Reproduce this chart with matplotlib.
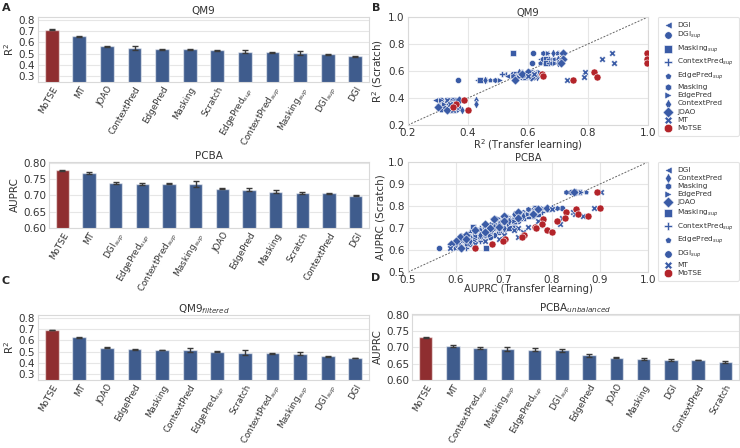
import matplotlib
matplotlib.use('Agg')
import matplotlib.pyplot as plt
import seaborn as sns

sns.set_style('whitegrid', {'grid.color': '.9', 'axes.edgecolor': '.85'})
plt.rcParams['font.family'] = ['DejaVu Sans']

# colores
azul_bar = '#3f5c8d'
rojo_bar = '#8f2e30'
azul_pt = '#3a5ba6'
rojo_pt = '#b3242a'

# ---------------- datos de barras ----------------
qm9_met = ['MoTSE', 'MT', 'JOAO', 'ContextPred', 'EdgePred', 'Masking', 'Scratch',
           r'EdgePred$_{sup}$', r'ContextPred$_{sup}$', r'Masking$_{sup}$', r'DGI$_{sup}$', 'DGI']
qm9_val = [0.712, 0.653, 0.567, 0.549, 0.538, 0.538, 0.530, 0.518, 0.514, 0.509, 0.496, 0.476]
qm9_err = [0.003, 0.004, 0.003, 0.020, 0.003, 0.003, 0.003, 0.012, 0.004, 0.018, 0.004, 0.004]

pcba_met = ['MoTSE', 'MT', r'DGI$_{sup}$', r'EdgePred$_{sup}$', r'ContextPred$_{sup}$', r'Masking$_{sup}$',
            'JOAO', 'EdgePred', 'Masking', 'Scratch', 'ContextPred', 'DGI']
pcba_val = [0.777, 0.769, 0.739, 0.736, 0.736, 0.735, 0.720, 0.717, 0.711, 0.707, 0.706, 0.699]
pcba_err = [0.002, 0.003, 0.003, 0.003, 0.002, 0.008, 0.002, 0.004, 0.004, 0.002, 0.002, 0.002]

qm9f_met = ['MoTSE', 'MT', 'JOAO', 'EdgePred', 'Masking', 'ContextPred', r'EdgePred$_{sup}$', 'Scratch',
            r'ContextPred$_{sup}$', r'Masking$_{sup}$', r'DGI$_{sup}$', 'DGI']
qm9f_val = [0.692, 0.628, 0.535, 0.521, 0.515, 0.512, 0.499, 0.491, 0.488, 0.482, 0.461, 0.444]
qm9f_err = [0.003, 0.004, 0.003, 0.003, 0.003, 0.018, 0.004, 0.020, 0.004, 0.013, 0.005, 0.003]

pcbau_met = ['MoTSE', 'MT', r'ContextPred$_{sup}$', r'Masking$_{sup}$', r'EdgePred$_{sup}$', r'DGI$_{sup}$',
             'EdgePred', 'JOAO', 'Masking', 'DGI', 'ContextPred', 'Scratch']
pcbau_val = [0.731, 0.703, 0.698, 0.695, 0.693, 0.691, 0.675, 0.668, 0.664, 0.661, 0.661, 0.655]
pcbau_err = [0.002, 0.003, 0.003, 0.006, 0.005, 0.005, 0.005, 0.002, 0.002, 0.003, 0.001, 0.004]

# ---------------- datos de dispersión ----------------
qm9_scratch = [0.736, 0.687, 0.657, 0.59, 0.577, 0.565, 0.553, 0.533, 0.385, 0.353, 0.335, 0.311]
qm9_tl = {
    'DGI':           [0.660, 0.640, 0.645, 0.590, 0.520, 0.530, 0.560, 0.430, 0.290, 0.300, 0.310, 0.320],
    'DGI_sup':       [0.616, 0.650, 0.613, 0.600, 0.550, 0.570, 0.580, 0.367, 0.310, 0.330, 0.340, 0.330],
    'Masking_sup':   [0.549, 0.660, 0.660, 0.610, 0.560, 0.600, 0.590, 0.440, 0.350, 0.330, 0.310, 0.350],
    'ContextPred_sup': [0.700, 0.670, 0.670, 0.580, 0.513, 0.560, 0.610, 0.460, 0.330, 0.350, 0.330, 0.340],
    'EdgePred_sup':  [0.698, 0.680, 0.640, 0.620, 0.570, 0.580, 0.600, 0.473, 0.340, 0.360, 0.320, 0.310],
    'Masking':       [0.649, 0.685, 0.680, 0.630, 0.590, 0.550, 0.620, 0.490, 0.360, 0.340, 0.360, 0.360],
    'EdgePred':      [0.668, 0.690, 0.690, 0.640, 0.610, 0.590, 0.570, 0.507, 0.310, 0.320, 0.350, 0.370],
    'ContextPred':   [0.684, 0.700, 0.700, 0.570, 0.620, 0.610, 0.630, 0.457, 0.427, 0.427, 0.370, 0.380],
    'JOAO':          [0.716, 0.715, 0.710, 0.600, 0.580, 0.620, 0.610, 0.557, 0.370, 0.340, 0.300, 0.330],
    'MT':            [0.879, 0.846, 0.887, 0.790, 0.620, 0.600, 0.785, 0.730, 0.330, 0.340, 0.360, 0.350],
    'MoTSE':         [0.995, 0.995, 0.995, 0.820, 0.646, 0.650, 0.829, 0.749, 0.388, 0.360, 0.350, 0.399],
}

pcba_scratch = [0.865, 0.79, 0.785, 0.774, 0.765, 0.755, 0.745, 0.74, 0.73, 0.718,
                0.705, 0.698, 0.69, 0.68, 0.668, 0.66, 0.65, 0.64, 0.627, 0.608]
pcba_tl = {
    'DGI':           [0.84, 0.78, 0.76, 0.75, 0.73, 0.72, 0.674, 0.70, 0.69, 0.70, 0.66, 0.69, 0.67, 0.65, 0.64, 0.64, 0.63, 0.62, 0.62, 0.60],
    'ContextPred':   [0.85, 0.80, 0.77, 0.76, 0.72, 0.74, 0.706, 0.71, 0.71, 0.69, 0.68, 0.70, 0.66, 0.66, 0.65, 0.63, 0.61, 0.63, 0.60, 0.612],
    'Masking':       [0.83, 0.81, 0.75, 0.74, 0.74, 0.73, 0.72, 0.72, 0.70, 0.68, 0.67, 0.68, 0.65, 0.67, 0.66, 0.65, 0.63, 0.61, 0.63, 0.59],
    'EdgePred':      [0.86, 0.782, 0.78, 0.77, 0.75, 0.71, 0.688, 0.73, 0.72, 0.71, 0.70, 0.66, 0.68, 0.64, 0.67, 0.62, 0.64, 0.64, 0.61, 0.60],
    'JOAO':          [0.845, 0.79, 0.77, 0.73, 0.76, 0.70, 0.73, 0.68, 0.70, 0.66, 0.69, 0.67, 0.64, 0.66, 0.62, 0.608, 0.62, 0.60, 0.59, 0.61],
    'Masking_sup':   [0.855, 0.765, 0.79, 0.765, 0.77, 0.75, 0.74, 0.70, 0.72, 0.70, 0.636, 0.71, 0.66, 0.67, 0.64, 0.64, 0.65, 0.62, 0.63, 0.662],
    'ContextPred_sup': [0.86, 0.80, 0.78, 0.78, 0.74, 0.74, 0.70, 0.71, 0.68, 0.70, 0.68, 0.65, 0.69, 0.63, 0.65, 0.66, 0.61, 0.65, 0.60, 0.62],
    'EdgePred_sup':  [0.87, 0.81, 0.76, 0.75, 0.75, 0.72, 0.72, 0.69, 0.69, 0.67, 0.69, 0.64, 0.67, 0.64, 0.61, 0.63, 0.63, 0.61, 0.62, 0.60],
    'DGI_sup':       [0.84, 0.82, 0.79, 0.77, 0.77, 0.76, 0.73, 0.72, 0.73, 0.72, 0.67, 0.72, 0.70, 0.69, 0.68, 0.67, 0.64, 0.62, 0.61, 0.565],
    'MT':            [0.902, 0.888, 0.80, 0.844, 0.848, 0.865, 0.82, 0.782, 0.77, 0.817, 0.75, 0.73, 0.72, 0.74, 0.70, 0.73, 0.69, 0.66, 0.64, 0.5875],
    'MoTSE':         [0.893, 0.899, 0.85, 0.829, 0.855, 0.874, 0.827, 0.782, 0.81, 0.78, 0.765, 0.767, 0.79, 0.799, 0.742, 0.737, 0.702, 0.697, 0.674, 0.64],
}

marcadores = {'DGI': '<', 'DGI_sup': 'o', 'Masking_sup': 's', 'ContextPred_sup': 'P',
              'EdgePred_sup': 'p', 'Masking': 'h', 'EdgePred': '>', 'ContextPred': 'd',
              'JOAO': 'D', 'MT': 'X', 'MoTSE': 'o'}
tamanos = {'DGI': 18, 'DGI_sup': 20, 'Masking_sup': 20, 'ContextPred_sup': 24,
           'EdgePred_sup': 16, 'Masking': 18, 'EdgePred': 18, 'ContextPred': 20,
           'JOAO': 22, 'MT': 22, 'MoTSE': 26}
etiquetas = {'DGI': 'DGI', 'DGI_sup': r'DGI$_{sup}$', 'Masking_sup': r'Masking$_{sup}$',
             'ContextPred_sup': r'ContextPred$_{sup}$', 'EdgePred_sup': r'EdgePred$_{sup}$',
             'Masking': 'Masking', 'EdgePred': 'EdgePred', 'ContextPred': 'ContextPred',
             'JOAO': 'JOAO', 'MT': 'MT', 'MoTSE': 'MoTSE'}

orden_ley_qm9 = ['DGI', 'DGI_sup', 'Masking_sup', 'ContextPred_sup', 'EdgePred_sup', 'Masking',
                 'EdgePred', 'ContextPred', 'JOAO', 'MT', 'MoTSE']
orden_ley_pcba = ['DGI', 'ContextPred', 'Masking', 'EdgePred', 'JOAO', 'Masking_sup',
                  'ContextPred_sup', 'EdgePred_sup', 'DGI_sup', 'MT', 'MoTSE']

fig = plt.figure(figsize=(7.4, 4.48), dpi=100)
gris = '#333333'


def barras(rect, metodos, valores, errores, titulo, ylab, ylim, yticks, ytl):
    ax = fig.add_axes(rect)
    colores = [rojo_bar] + [azul_bar] * (len(valores) - 1)
    x = list(range(len(valores)))
    ax.bar(x, valores, width=0.5, color=colores, edgecolor=(1, 1, 1, 0.55), linewidth=1.0,
           yerr=errores, error_kw=dict(ecolor='#3a3a3a', elinewidth=1.0, capsize=2, capthick=1.0),
           zorder=2)
    ax.set_xlim(-0.5, len(valores) - 0.5)
    ax.set_ylim(*ylim)
    ax.set_yticks(yticks)
    ax.set_yticklabels(ytl, fontsize=7.5, color=gris)
    ax.set_xticks(x)
    ax.set_xticklabels(metodos, rotation=60, ha='right', rotation_mode='anchor',
                       fontsize=6.3, color=gris)
    ax.tick_params(axis='both', length=0, pad=2)
    ax.grid(axis='x', visible=False)
    ax.set_title(titulo, fontsize=7.5, color=gris, pad=2)
    ax.set_ylabel(ylab, fontsize=7.5, color=gris, labelpad=2)
    return ax


yt_r2 = [0.3, 0.4, 0.5, 0.6, 0.7, 0.8]
yt_au = [0.60, 0.65, 0.70, 0.75, 0.80]
barras([38 / 740, 1 - 82 / 448, 331 / 740, 65 / 448], qm9_met, qm9_val, qm9_err, 'QM9',
       r'R$^2$', (0.25, 0.825), yt_r2, ['%.1f' % v for v in yt_r2])
barras([49 / 740, 1 - 228 / 448, 320 / 740, 66 / 448], pcba_met, pcba_val, pcba_err, 'PCBA',
       'AUPRC', (0.60, 0.802), yt_au, ['%.2f' % v for v in yt_au])
barras([38 / 740, 1 - 380 / 448, 331 / 740, 65 / 448], qm9f_met, qm9f_val, qm9f_err,
       r'QM9$_{filtered}$', r'R$^2$', (0.25, 0.825), yt_r2, ['%.1f' % v for v in yt_r2])
barras([412 / 740, 1 - 380 / 448, 327 / 740, 66 / 448], pcbau_met, pcbau_val, pcbau_err,
       r'PCBA$_{unbalanced}$', 'AUPRC', (0.60, 0.802), yt_au, ['%.2f' % v for v in yt_au])


def dispersion(rect, scratch, tl, titulo, xlab, ylab, lim, ticks, orden):
    ax = fig.add_axes(rect)
    handles = {}
    for m in ['DGI', 'DGI_sup', 'Masking_sup', 'ContextPred_sup', 'EdgePred_sup', 'Masking',
              'EdgePred', 'ContextPred', 'JOAO', 'MT', 'MoTSE']:
        col = rojo_pt if m == 'MoTSE' else azul_pt
        h = ax.scatter(tl[m], scratch, marker=marcadores[m], s=tamanos[m], color=col,
                       edgecolor='white', linewidth=0.4, zorder=3, label=etiquetas[m])
        handles[m] = h
    ax.plot(lim, lim, ls=(0, (2, 1.5)), color='#666666', lw=0.7, zorder=2)
    ax.set_xlim(*lim)
    ax.set_ylim(*lim)
    ax.set_xticks(ticks)
    ax.set_yticks(ticks)
    ax.set_xticklabels(['%.1f' % t for t in ticks], fontsize=7.5, color=gris)
    ax.set_yticklabels(['%.1f' % t for t in ticks], fontsize=7.5, color=gris)
    ax.tick_params(axis='x', length=0, pad=2)
    ax.tick_params(axis='y', length=0, pad=2.5)
    ax.set_title(titulo, fontsize=7.2, color=gris, pad=1)
    ax.set_xlabel(xlab, fontsize=7.2, color=gris, labelpad=-0.5)
    ax.set_ylabel(ylab, fontsize=7.5, color=gris, labelpad=2)
    ley = ax.legend([handles[m] for m in orden], [etiquetas[m] for m in orden],
                    loc='upper left', bbox_to_anchor=(1.04, 1.0), fontsize=5.3,
                    frameon=True, labelspacing=0.28, handletextpad=0.5, borderpad=0.6,
                    borderaxespad=0, markerscale=1.2, handlelength=1.6)
    ley.get_frame().set_edgecolor('#dddddd')
    ley.get_frame().set_linewidth(0.8)
    for t in ley.get_texts():
        t.set_color(gris)
    return ax


dispersion([408 / 740, 1 - 125 / 448, 240 / 740, 108 / 448], qm9_scratch, qm9_tl, 'QM9',
           r'R$^2$ (Transfer learning)', r'R$^2$ (Scratch)', (0.2, 1.0),
           [0.2, 0.4, 0.6, 0.8, 1.0], orden_ley_qm9)
dispersion([408 / 740, 1 - 272 / 448, 240 / 740, 110 / 448], pcba_scratch, pcba_tl, 'PCBA',
           'AUPRC (Transfer learning)', 'AUPRC (Scratch)', (0.5, 1.0),
           [0.5, 0.6, 0.7, 0.8, 0.9, 1.0], orden_ley_pcba)

# letras de los paneles
for letra, xp, yp in [('A', 2, 3), ('B', 372, 3), ('C', 2, 276), ('D', 371, 273)]:
    fig.text(xp / 740, 1 - yp / 448, letra, fontsize=8, fontweight='bold', va='top', ha='left')

fig.savefig('out.png', dpi=100)
